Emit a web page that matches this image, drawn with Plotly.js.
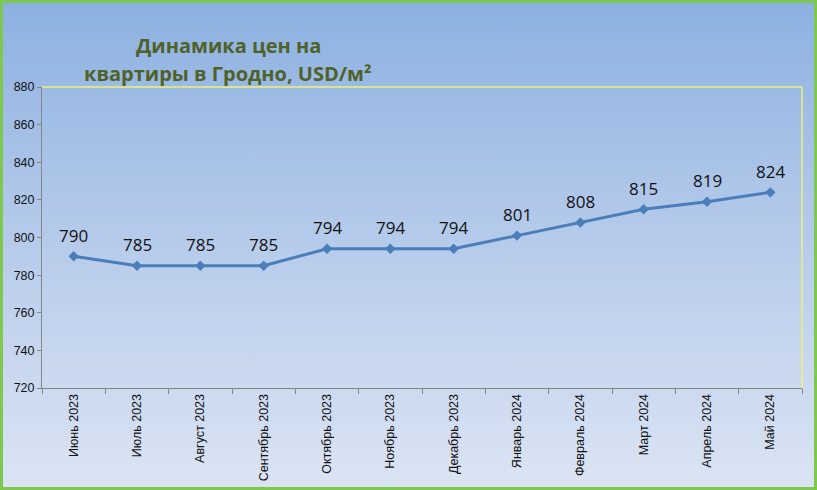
<!DOCTYPE html>
<html><head><meta charset="utf-8">
<script src="https://cdn.plot.ly/plotly-3.0.1.min.js"></script>
<style>
html,body{margin:0;padding:0;}
#wrap{width:817px;height:490px;box-sizing:border-box;border:3px solid #7ec850;
background:linear-gradient(to bottom,#8cb1e1 0%,#b3c9ea 45%,#dbe4f3 100%);}
#chart{width:811px;height:484px;}
</style></head>
<body><div id="wrap"><div id="chart"></div></div>
<script>
var months = ["Июнь 2023","Июль 2023","Август 2023","Сентябрь 2023","Октябрь 2023","Ноябрь 2023","Декабрь 2023","Январь 2024","Февраль 2024","Март 2024","Апрель 2024","Май 2024"];
var prices = [790,785,785,785,794,794,794,801,808,815,819,824];
var yTicks = [720,740,760,780,800,820,840,860,880];
var titleLines = ["Динамика цен на", "квартиры в Гродно, USD/м²"];

var trace = {
  x: months, y: prices, type: "scatter", mode: "lines+markers",
  line: {color: "#4a7ebb", width: 3},
  marker: {symbol: "diamond", size: 8, color: "#4a7ebb"},
  cliponaxis: false, hoverinfo: "skip"
};
var annotations = prices.map(function (v, i) {
  return {x: months[i], y: v, xref: "x", yref: "y", text: String(v), showarrow: false,
    yanchor: "middle", yshift: 21,
    font: {family: "Open Sans, sans-serif", size: 17, color: "#111"}};
});
var titleY = [1.1395, 1.0465];
titleLines.forEach(function (t, i) {
  annotations.push({x: 0.245, y: titleY[i], xref: "paper", yref: "paper", text: t, showarrow: false,
    xanchor: "center", yanchor: "middle",
    font: {family: "Open Sans, sans-serif", size: 20, color: "#4f6228", weight: "bold"}});
});
var layout = {
  width: 811, height: 484,
  paper_bgcolor: "rgba(0,0,0,0)", plot_bgcolor: "rgba(0,0,0,0)",
  margin: {l: 39, r: 12, t: 84, b: 99},
  showlegend: false,
  annotations: annotations,
  xaxis: {type: "category", range: [-0.5, 11.5], tickangle: -90, tickson: "boundaries",
    ticks: "outside", ticklen: 5, tickcolor: "#868686", showline: true, linecolor: "#868686", linewidth: 1,
    showgrid: false, zeroline: false, tickfont: {family: "Liberation Sans, Arial, sans-serif", size: 12.5, color: "#111"}},
  yaxis: {range: [720, 880], tickvals: yTicks, ticktext: yTicks.map(String),
    ticks: "outside", ticklen: 4, tickcolor: "#868686", showline: true, linecolor: "#868686", linewidth: 1,
    showgrid: false, zeroline: false, tickfont: {family: "Liberation Sans, Arial, sans-serif", size: 12.5, color: "#111"}},
  shapes: [
    {type: "line", xref: "paper", yref: "paper", x0: 0, x1: 1, y0: 1, y1: 1, line: {color: "#eef07a", width: 1.5}},
    {type: "line", xref: "paper", yref: "paper", x0: 1, x1: 1, y0: 0, y1: 1, line: {color: "#eef07a", width: 1.5}}
  ]
};
Plotly.newPlot("chart", [trace], layout, {displayModeBar: false, staticPlot: true});
</script></body></html>
